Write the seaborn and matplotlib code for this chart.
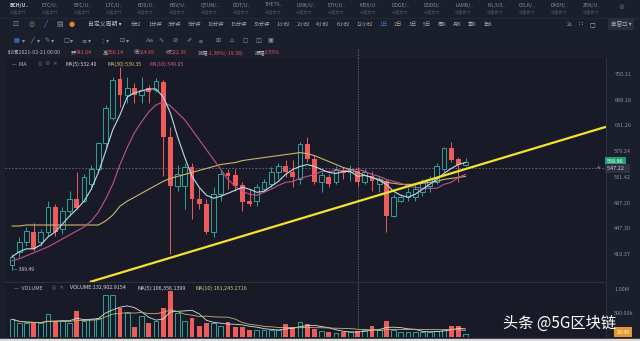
import numpy as np
import pandas as pd
import matplotlib
matplotlib.use("Agg")
import matplotlib.pyplot as plt
import matplotlib.ticker as mticker
import matplotlib.transforms as mtransforms
from matplotlib.lines import Line2D
import seaborn as sns

# ---------------- data ----------------
dates = pd.date_range("2021-02-01", "2021-04-05", freq="D")

open_ = [396.0, 413.5, 427.4, 441.9, 427.4, 441.9, 480.2, 446.3, 473.9, 493.1,
         489.9, 518.3, 544.8, 595.9, 647.6, 737.7, 699.2, 715.8, 699.2, 715.8,
         711.0, 730.3, 608.0, 514.9, 514.9, 548.4, 493.1, 485.0, 441.9, 501.4,
         537.6, 534.1, 516.6, 489.9, 489.9, 509.8, 518.3, 539.4, 550.3, 539.4,
         527.0, 594.0, 565.1, 521.8, 530.5, 521.8, 541.2, 539.4, 541.64, 521.8,
         532.3, 518.3, 523.5, 466.1, 489.9, 496.4, 496.4, 504.7, 514.9, 521.8,
         544.8, 586.1, 565.1, 553.9]
high = [410.8, 434.6, 449.3, 455.3, 446.3, 489.9, 485.0, 480.2, 506.4, 539.4,
        535.8, 553.9, 597.9, 676.4, 742.6, 767.0, 742.6, 727.9, 742.6, 723.0,
        740.1, 735.2, 628.5, 553.9, 557.6, 557.6, 513.2, 493.1, 513.2, 541.2,
        544.8, 544.8, 521.8, 509.8, 518.3, 527.0, 548.4, 557.6, 563.2, 563.2,
        597.9, 608.0, 572.6, 539.4, 535.8, 550.3, 548.4, 553.9, 550.14, 544.8,
        541.2, 532.3, 527.0, 501.4, 501.4, 513.2, 518.3, 527.0, 532.3, 557.6,
        588.1, 597.9, 568.9, 567.0]
low = [389.49, 406.7, 421.8, 414.9, 421.8, 436.1, 436.1, 439.0, 466.1, 477.0,
       488.2, 509.8, 539.4, 588.1, 643.3, 671.9, 680.9, 680.9, 680.9, 680.9,
       706.3, 532.3, 410.8, 506.4, 477.0, 461.4, 477.0, 439.0, 434.6, 489.9,
       509.8, 506.4, 473.9, 481.8, 481.8, 506.4, 513.2, 527.0, 530.5, 513.2,
       518.3, 559.5, 518.3, 504.7, 513.2, 518.3, 527.0, 523.5, 514.69, 518.3,
       506.4, 504.7, 441.9, 464.5, 488.2, 489.9, 489.9, 498.1, 504.7, 518.3,
       539.4, 559.5, 521.8, 550.3]
close = [406.7, 427.4, 443.4, 417.6, 441.9, 480.2, 441.9, 473.9, 493.1, 478.6,
         530.5, 544.8, 595.9, 669.6, 735.2, 699.2, 715.8, 699.2, 711.0, 706.3,
         732.8, 608.0, 514.9, 535.8, 548.4, 493.1, 485.0, 441.9, 501.4, 535.8,
         532.3, 514.9, 488.2, 485.0, 513.2, 521.8, 539.4, 550.3, 539.4, 530.5,
         594.0, 565.1, 521.8, 534.1, 518.3, 544.8, 537.6, 544.8, 522.35, 539.4,
         523.5, 527.0, 466.1, 496.4, 496.4, 504.7, 509.8, 521.8, 527.0, 550.3,
         586.1, 563.2, 553.9, 558.86]
volume = [370e3, 283e3, 283e3, 283e3, 283e3, 478e3, 326e3, 326e3, 283e3, 543e3,
          326e3, 370e3, 391e3, 870e3, 870e3, 609e3, 500e3, 217e3, 435e3, 283e3,
          326e3, 609e3, 957e3, 500e3, 326e3, 391e3, 239e3, 283e3, 283e3, 239e3,
          304e3, 217e3, 217e3, 145e3, 145e3, 145e3, 145e3, 145e3, 261e3, 217e3,
          304e3, 261e3, 174e3, 130e3, 100e3, 90e3, 110e3, 95e3, 132902.9, 152e3,
          239e3, 152e3, 326e3, 152e3, 109e3, 109e3, 109e3, 109e3, 109e3, 130e3,
          174e3, 239e3, 239e3, 60e3]
ma5 = [406.7, 413.5, 417.6, 417.6, 423.2, 434.6, 441.9, 453.8, 466.1, 477.0,
       489.9, 509.8, 539.4, 578.4, 622.3, 654.2, 694.6, 703.9, 708.7, 713.4,
       713.4, 694.6, 658.5, 608.0, 567.0, 532.3, 513.2, 499.7, 494.8, 498.1,
       503.1, 508.1, 513.2, 509.8, 504.7, 506.4, 514.9, 523.5, 535.8, 544.8,
       550.3, 553.9, 550.3, 544.8, 539.4, 537.6, 541.2, 541.2, 532.40, 534.1,
       530.5, 525.3, 518.3, 506.4, 499.7, 496.4, 501.4, 509.8, 518.3, 527.0,
       537.6, 546.6, 553.9, 557.6]
ma10 = [401.3, 404.0, 408.0, 412.1, 416.2, 420.4, 426.0, 431.7, 437.5, 443.4,
        449.3, 458.4, 472.3, 493.1, 518.3, 553.9, 586.1, 616.1, 639.1, 660.7,
        676.4, 683.1, 674.1, 658.5, 643.3, 622.3, 601.9, 582.2, 563.2, 544.8,
        527.0, 514.9, 506.4, 501.4, 499.7, 504.7, 509.8, 516.6, 521.8, 523.5,
        528.8, 532.3, 535.8, 541.2, 541.2, 543.0, 543.0, 543.0, 545.0, 541.2,
        535.8, 532.3, 527.0, 523.5, 520.1, 514.9, 513.2, 511.5, 511.5, 511.5,
        518.3, 521.8, 530.5, 535.8]
ma30 = [450.8, 450.8, 452.3, 452.3, 452.3, 452.3, 452.3, 452.3, 452.3, 452.3,
        452.3, 452.3, 452.3, 458.4, 467.6, 481.8, 489.9, 496.4, 503.1, 509.8,
        516.6, 523.5, 528.8, 532.3, 535.8, 539.4, 543.0, 546.6, 550.3, 553.9,
        555.8, 557.6, 561.3, 563.2, 565.1, 567.0, 568.9, 570.7, 572.6, 574.5,
        576.5, 574.5, 570.7, 565.1, 559.5, 553.9, 548.4, 544.8, 539.35, 534.1,
        530.5, 527.0, 521.8, 520.1, 518.3, 518.3, 518.3, 520.1, 521.8, 523.5,
        527.0, 528.8, 530.5, 532.3]
price_ticks = [750.11, 688.18, 631.26, 579.24, 531.42, 487.20, 447.30, 410.37]
vol_ticks = [1.0e6, 5.0e5]
vol_tick_labels = ["1.00M", "500.00k"]
trend_x = [10.8, 82.5]
trend_y = [373.7, 628.5]
cross_idx = 48
cross_price = 547.22
last_price = 558.86

# ---------------- style ----------------
sns.set_theme(style="dark")
plt.rcParams['font.family'] = ['Noto Sans CJK SC', 'DejaVu Sans']
SYM = ['DejaVu Sans', 'Noto Sans CJK SC']
BG = '#1b1e2b'
PANEL = '#181b27'
UP = '#2fa39a'
DOWN = '#ee5b5b'
GRAYTXT = '#8a8e9a'
C_MA5 = '#b9dcea'
C_MA10 = '#c4508f'
C_MA30 = '#c9b66c'
W, H = 640, 341

fig = plt.figure(figsize=(6.4, 3.41), dpi=100, facecolor=BG)
renderer = fig.canvas.get_renderer()


def fx(px):
    return px / W


def fy(py):
    return 1 - py / H


def ft(px, py, s, **kw):
    kw.setdefault('va', 'center')
    kw.setdefault('ha', 'left')
    kw.setdefault('color', GRAYTXT)
    kw.setdefault('fontsize', 4)
    return fig.text(fx(px), fy(py), s, **kw)


def text_w(s, **kw):
    t = ft(0, -100, s, **kw)
    w = t.get_window_extent(renderer=renderer).width
    t.remove()
    return w


def spread(groups, x0, x1, py, **kw):
    """groups: list of lists of (text, color); spread between x0 and x1."""
    widths = [[text_w(s, **kw) for s, _ in g] for g in groups]
    total = sum(sum(w) for w in widths)
    gap = (x1 - x0 - total) / max(len(groups) - 1, 1)
    px = x0
    for g, ws in zip(groups, widths):
        for (s, col), w in zip(g, ws):
            ft(px, py, s, color=col, **kw)
            px += w
        px += gap


ax_p = fig.add_axes([fx(5), fy(282), fx(606 - 5), (282 - 58) / H])
ax_v = fig.add_axes([fx(5), fy(337), fx(606 - 5), (337 - 283) / H])

x = np.arange(len(close))
o = np.array(open_); c = np.array(close); hi = np.array(high); lo = np.array(low)
up = c >= o

for ax in (ax_p, ax_v):
    ax.set_facecolor(PANEL)
    for s in ('top', 'left'):
        ax.spines[s].set_visible(False)
    ax.spines['right'].set_color('#2c303c')
    ax.spines['bottom'].set_color('#2c303c')
    ax.spines['right'].set_linewidth(0.8)
    ax.spines['bottom'].set_linewidth(0.8)
    ax.grid(False)
    ax.set_xlim(-0.97, 82.5)
    ax.set_xticks([])

# ---- candles ----
ax_p.vlines(x, lo, hi, colors=np.where(up, UP, DOWN), linewidth=0.7, zorder=2)
body_lo = np.minimum(o, c)
body_h = np.maximum(np.abs(c - o), body_lo * 0.003)
ax_p.bar(x[up], body_h[up], bottom=body_lo[up], width=0.68, facecolor=PANEL,
         edgecolor=UP, linewidth=0.7, zorder=3)
ax_p.bar(x[~up], body_h[~up], bottom=body_lo[~up], width=0.68, color=DOWN,
         linewidth=0, zorder=3)

# ---- moving averages ----
sns.lineplot(x=x, y=ma30, ax=ax_p, color=C_MA30, linewidth=0.8, zorder=4)
sns.lineplot(x=x, y=ma10, ax=ax_p, color=C_MA10, linewidth=0.8, zorder=4)
sns.lineplot(x=x, y=ma5, ax=ax_p, color=C_MA5, linewidth=0.8, zorder=4)

# ---- trend line ----
ax_p.plot(trend_x, trend_y, color='#f2e32c', linewidth=1.6, zorder=5,
          solid_capstyle='butt')

ax_p.set_yscale('log')
ax_p.set_ylim(373.7, 791.4)
ax_p.yaxis.set_minor_locator(mticker.NullLocator())
ax_p.set_yticks(price_ticks)
ax_p.set_yticklabels([f"{t:.2f}" for t in price_ticks])
ax_p.yaxis.tick_right()
ax_p.tick_params(axis='y', length=0, pad=6, labelsize=4, labelcolor=GRAYTXT)
ax_p.set_ylabel('')

# crosshair
ax_p.axhline(cross_price, color='#6c707c', linewidth=0.6, linestyle=(0, (2, 2)), zorder=1)
for ax in (ax_p, ax_v):
    ax.axvline(cross_idx, color='#6c707c', linewidth=0.6, linestyle=(0, (1.5, 1.5)), zorder=1)

tr_p = mtransforms.blended_transform_factory(ax_p.transAxes, ax_p.transData)
ax_p.text(1.002, last_price, f"{last_price:.2f}", transform=tr_p, fontsize=4,
          color='white', va='center', ha='left', zorder=10, clip_on=False,
          bbox=dict(boxstyle='square,pad=0.35', fc='#1f9e72', ec='none'))
ax_p.text(1.002, cross_price, f"{cross_price:.2f}   ", transform=tr_p, fontsize=4,
          color='#d0d3da', va='center', ha='left', zorder=10, clip_on=False,
          bbox=dict(boxstyle='square,pad=0.35', fc='#2e323e', ec='none'))
ax_p.text(0.988, cross_price, "+", transform=tr_p, fontsize=5, color='#9da1ac',
          va='center', ha='center', zorder=10)
ax_p.text(0.2, low[0], "— 389.49", fontsize=3.6, color='#c7cad2', va='center',
          ha='left', zorder=10)

# ---- volume ----
vol = np.array(volume)
ax_v.bar(x[up], vol[up], width=0.68, facecolor=PANEL, edgecolor=UP, linewidth=0.7, zorder=3)
ax_v.bar(x[~up], vol[~up], width=0.68, color=DOWN, linewidth=0, zorder=3)
vs = pd.Series(vol)
sns.lineplot(x=x, y=vs.rolling(5, min_periods=1).mean().values, ax=ax_v,
             color='#d9dde4', linewidth=0.6, zorder=4)
sns.lineplot(x=x, y=vs.rolling(10, min_periods=1).mean().values, ax=ax_v,
             color=C_MA30, linewidth=0.6, zorder=4)
ax_v.set_ylim(0, 1.125e6)
ax_v.set_yticks(vol_ticks)
ax_v.set_yticklabels(vol_tick_labels)
ax_v.yaxis.tick_right()
ax_v.tick_params(axis='y', length=0, pad=6, labelsize=4, labelcolor=GRAYTXT)
ax_v.set_ylabel('')
ax_v.spines['bottom'].set_visible(False)

# ---------------- toolbar texts ----------------
tabs = ["BCH/U..", "ETC/U..", "BTC/U..", "LTC/U..", "EOS/U..", "BSV/U..", "QTUM/..",
        "DOT/U..", "THETA..", "LINK/U..", "ETH/U..", "MDX/U..", "DOGE/..", "DODO/..",
        "LAMB/..", "FIL/US..", "CELR/..", "DASH/..", "ZEN/U.."]
for i, t in enumerate(tabs):
    px = 10 + 31.8 * i
    ft(px, 5, t, fontsize=3.6, color='#d0d3da' if i == 0 else '#8d919c',
       fontweight='bold' if i == 0 else 'normal')
    ft(px, 12, "永续合约", fontsize=3, color='#4e5260')
ft(618, 7, "⊗", fontsize=5, color='#5d6170', family=SYM)
fig.add_artist(Line2D([0, 1], [fy(18), fy(18)], color='#262a36', linewidth=0.6))

# row 2
for px, s, col in [(12, "⊡", '#8d919c'), (29, "◎", '#8d919c'), (43, "╱", '#3f7de0'),
                   (56, "▤", '#8d919c'), (69, "●", '#d98a2b')]:
    ft(px, 24, s, fontsize=5, color=col, family=SYM)
ft(88, 24, "自定义周期 ▾", fontsize=4.2, color='#b5b9c3')
periods = ["分时", "1分钟", "3分钟", "5分钟", "10分钟", "15分钟", "30分钟", "1小时", "2小时",
           "4小时", "6小时", "12小时", "1日", "2日", "3日", "5日", "周K", "月K", "季K", "年K"]
spread([[(s, '#3f7de0' if s == "1日" else '#a9adb7')] for s in periods],
       131, 492, 24, fontsize=3.8)
ft(567, 24, "2s", fontsize=4, color='#a9adb7')
ft(579, 24, "∷", fontsize=5, color='#a9adb7', family=SYM)
ft(589, 24, "◻", fontsize=5, color='#a9adb7', family=SYM)
ft(621, 24, "单窗口 ▾", fontsize=4, color='#a9adb7', ha='center',
   bbox=dict(boxstyle='square,pad=0.5', fc='#2a2e3a', ec='none'))

# row 3 (drawing tools)
tools = ["▦", "▾", "╱", "▾", "✎", "▾", "□", "▾", "≡", "▾", "⋮", "▾", "⊡", "▾", "Aa",
         "∿", "⊘", "✐", "⌀", "⊞", "⌂", "◻", "◫", "▣"]
tpx = [13, 22, 30, 37, 44, 51, 63, 70, 81, 88, 99, 106, 119, 126, 146, 158, 172, 186,
       199, 215, 229, 242, 255, 267]
for px, s in zip(tpx, tools):
    ft(px, 41, s, fontsize=4.5, color='#3f7de0' if px == 13 else '#8d919c', family=SYM)

# row 4: candle info
RED = '#e8535b'
LAB = '#b5b9c3'
spread([[("时间2021-03-21 00:00", LAB)],
        [("开", LAB), ("541.64", RED)],
        [("高", LAB), ("550.14", RED)],
        [("低", LAB), ("514.69", RED)],
        [("收", LAB), ("522.35", RED)],
        [("涨幅", LAB), ("-1.36%(-19.38)", RED)],
        [("振幅", LAB), ("6.55%", RED)]], 8, 280, 53, fontsize=3.8)

# MA legend row
ft(12, 64, "—  MA", fontsize=3.8, color='#b5b9c3')
ft(38, 64, "◎  ⚙  ✕", fontsize=3.6, color='#6f7380', family=SYM)
ft(65, 64, "MA(5):532.40", fontsize=3.8, color='#d5d8df')
ft(107, 64, "MA(30):539.35", fontsize=3.8, color='#d7c57a')
ft(150, 64, "MA(10):549.05", fontsize=3.8, color='#cf5c9c')

# volume legend row
ft(14, 288, "—  VOLUME", fontsize=3.9, color='#b5b9c3')
ft(52, 288, "◎  ✕", fontsize=3.6, color='#6f7380', family=SYM)
ft(70, 288, "VOLUME:132,902.9154", fontsize=3.9, color='#d5d8df')
ft(137, 288, "MA(5):106,356.1399", fontsize=3.9, color='#d5d8df')
ft(195, 288, "MA(10):161,245.2716", fontsize=3.9, color='#d7c57a')

# crosshair extension into the header
fig.canvas.draw()
xd = ax_p.transData.transform((cross_idx, 500))[0] / fig.bbox.width
fig.add_artist(Line2D([xd, xd], [fy(58), fy(49)], color='#6c707c', linewidth=0.6,
                      linestyle=(0, (1.5, 1.5))))

# bottom-right badge
ft(623, 332, "20:45", fontsize=3.8, color='white', ha='center',
   bbox=dict(boxstyle='square,pad=0.45', fc='#e39a2d', ec='none'))

# watermark
ft(503, 323, "头条 @5G区块链", fontsize=11, color='white', fontweight='medium')

# bottom light edge
fig.add_artist(plt.Rectangle((0, 0), 1, 2.5 / H, transform=fig.transFigure,
                             color='#d8d8d8', zorder=0))

fig.savefig("out.png", dpi=100, facecolor=BG)
